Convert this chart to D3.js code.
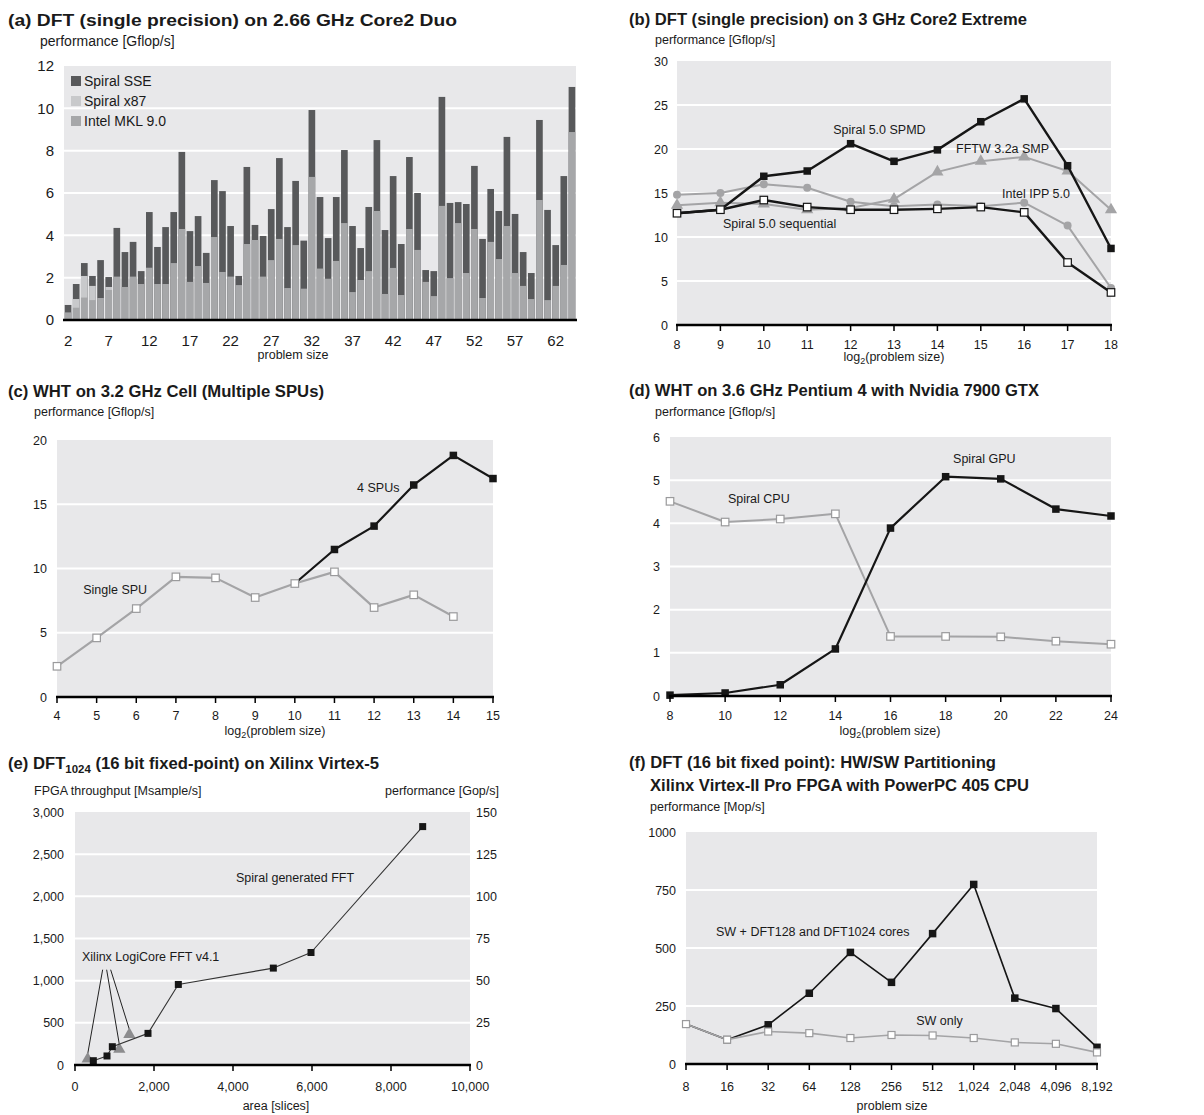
<!DOCTYPE html>
<html>
<head>
<meta charset="utf-8">
<script src="https://cdn.jsdelivr.net/npm/d3@7"></script>
<style>
body { margin: 0; background: #fff; }
svg text { font-family: "Liberation Sans", Arial, sans-serif; fill: #1a1a1a; }
</style>
</head>
<body>
<svg id="chart" width="1204" height="1115"></svg>
<script>
// ---- data (a): DFT on Core2 Duo, bars ----
const sizesA = [2,3,4,5,6,7,8,9,10,11,12,13,14,15,16,17,18,19,20,21,22,23,24,25,26,27,28,29,30,31,32,33,
  34,35,36,37,38,39,40,41,42,43,44,45,46,47,48,49,50,51,52,53,54,55,56,57,58,59,60,61,62,63,64];
const sseA = [0.71,1.70,2.69,2.08,2.83,2.03,4.35,3.21,3.69,2.31,5.10,3.45,4.39,5.10,7.94,4.20,4.91,3.17,6.61,6.09,
  4.44,2.08,7.23,4.49,3.97,5.24,7.65,4.39,6.57,3.75,9.92,5.81,3.87,5.81,8.03,4.44,3.40,5.34,8.50,4.25,6.80,3.59,
  7.70,6.00,2.36,2.31,10.54,5.53,5.57,5.48,7.28,3.83,6.19,5.15,8.65,5.01,3.21,2.22,9.45,5.20,3.54,6.80,11.01];
const mklA = [0.36,0.58,1.06,0.94,1.04,1.42,2.05,1.56,2.05,1.70,2.47,1.70,1.70,2.69,4.30,1.80,2.55,1.75,3.92,2.27,
  2.05,1.65,3.59,3.78,2.05,2.83,3.83,1.51,3.54,1.48,6.76,2.43,1.95,2.79,4.58,1.32,1.89,2.31,5.15,1.23,2.46,1.18,
  4.30,3.31,1.80,1.13,5.39,1.98,4.58,2.22,4.30,1.04,3.69,2.88,4.44,2.22,1.61,0.99,5.67,0.94,1.61,2.60,8.88];
// x87 is only visible where it rises above MKL
const x87Sizes = [3,4,5,7];
const x87A = [0.99,2.08,1.61,1.56];
const tickSizesA = [2,7,12,17,22,27,32,37,42,47,52,57,62];
const legendA = ["Spiral SSE", "Spiral x87", "Intel MKL 9.0"];

// ---- data (b): DFT on Core2 Extreme ----
const log2B = [8,9,10,11,12,13,14,15,16,17,18];
const spmdB = [12.7,13.1,16.9,17.5,20.6,18.6,19.9,23.1,25.7,18.1,8.7];
const seqB  = [12.7,13.1,14.2,13.4,13.1,13.1,13.2,13.4,12.8,7.1,3.7];
const fftwB = [13.6,13.9,13.75,13.1,13.3,14.3,17.4,18.6,19.1,17.5,13.1];
const ippB  = [14.8,15.0,16.0,15.6,14.0,13.5,13.7,13.5,13.9,11.3,4.2];

// ---- data (c): WHT on Cell ----
const log2C = [4,5,6,7,8,9,10,11,12,13,14,15];
const singleSizesC = [4,5,6,7,8,9,10,11,12,13,14];
const singleC = [2.39,4.6,6.88,9.35,9.27,7.74,8.83,9.74,6.96,7.95,6.26];
const fourSizesC = [10,11,12,13,14,15];
const fourC = [8.83,11.48,13.3,16.5,18.8,17.0];

// ---- data (d): WHT on Pentium 4 + GPU ----
const log2D = [8,10,12,14,16,18,20,22,24];
const gpuD = [0.02,0.07,0.26,1.09,3.89,5.08,5.03,4.33,4.17];
const cpuD = [4.51,4.03,4.10,4.22,1.38,1.38,1.37,1.27,1.20];

// ---- data (e): DFT1024 on Virtex-5 ----
const spiralArea = [464,810,945,1848,2616,5021,5975,8802];
const spiralThr  = [51,107,217,375,955,1149,1334,2827];
const xilinxArea = [321,1122,1376];
const xilinxThr  = [71,186,363];

// ---- data (f): HW/SW partitioning ----
const sizesF = ["8","16","32","64","128","256","512","1,024","2,048","4,096","8,192"];
const hwF = [172,105,169,305,481,352,562,774,284,239,72];
const swF = [172,105,140,133,112,125,123,112,93,87,50];

const BG = "#e8e8ea", BLACK = "#161616", GRAY = "#a4a4a6";
const svg = d3.select("#chart");

function addText(x, y, str, o = {}) {
  const t = svg.append("text").attr("x", x).attr("y", y)
    .attr("font-size", o.size || 12.5)
    .attr("text-anchor", o.anchor || "start")
    .text(str);
  if (o.bold) t.attr("font-weight", "bold");
  if (o.len) t.attr("textLength", o.len).attr("lengthAdjust", "spacingAndGlyphs");
  return t;
}

function frame(y, left, right, grid) {
  const top = y.range()[1], bottom = y.range()[0];
  svg.append("rect").attr("x", left).attr("y", top)
    .attr("width", right - left).attr("height", bottom - top).attr("fill", BG);
  svg.append("g").selectAll("line").data(grid).join("line")
    .attr("x1", left).attr("x2", right)
    .attr("y1", d => y(d)).attr("y2", d => y(d))
    .attr("stroke", "#fff").attr("stroke-width", 2);
}

function baseline(y0, left, right, tickXs) {
  svg.append("line").attr("x1", left - 1).attr("x2", right + 1)
    .attr("y1", y0).attr("y2", y0).attr("stroke", "#000").attr("stroke-width", 2.5);
  svg.append("g").selectAll("line").data(tickXs).join("line")
    .attr("x1", d => d).attr("x2", d => d)
    .attr("y1", y0).attr("y2", y0 + 6)
    .attr("stroke", "#000").attr("stroke-width", 1.5);
}

function yLabels(y, vals, xr, fmt, size, anchor) {
  svg.append("g").selectAll("text").data(vals).join("text")
    .attr("x", xr).attr("y", d => y(d)).attr("dy", "0.36em")
    .attr("text-anchor", anchor || "end")
    .attr("font-size", size || 12.5)
    .text(fmt || (d => d));
}

function xLabels(xs, labels, yb, size) {
  svg.append("g").selectAll("text").data(labels).join("text")
    .attr("x", (d, i) => xs[i]).attr("y", yb)
    .attr("text-anchor", "middle").attr("font-size", size || 12.5)
    .text(d => d);
}

function log2Title(cx, yb) {
  const t = svg.append("text").attr("x", cx).attr("y", yb)
    .attr("text-anchor", "middle").attr("font-size", 12.5);
  t.append("tspan").text("log");
  t.append("tspan").attr("font-size", 9).attr("dy", 3).text("2");
  t.append("tspan").attr("dy", -3).text("(problem size)");
}

function series(xf, yf, xs, ys, st) {
  const pts = xs.map((d, i) => [xf(d), yf(ys[i])]);
  svg.append("path").attr("d", d3.line()(pts)).attr("fill", "none")
    .attr("stroke", st.line).attr("stroke-width", st.width || 2)
    .attr("stroke-linejoin", "round");
  const g = svg.append("g");
  const s = st.size || 7;
  pts.forEach(([px, py], i) => {
    if (st.skipFirst && i === 0) return;
    if (st.marker === "square" || st.marker === "open") {
      g.append("rect").attr("x", px - s / 2).attr("y", py - s / 2)
        .attr("width", s).attr("height", s)
        .attr("fill", st.marker === "open" ? "#fff" : st.fill)
        .attr("stroke", st.marker === "open" ? st.stroke : "none")
        .attr("stroke-width", 1.2);
    } else if (st.marker === "circle") {
      g.append("circle").attr("cx", px).attr("cy", py).attr("r", s / 2).attr("fill", st.fill);
    } else if (st.marker === "tri") {
      g.append("path").attr("d", d3.symbol(d3.symbolTriangle, s * s * 0.8)())
        .attr("transform", `translate(${px},${py})`).attr("fill", st.fill);
    }
  });
}

// ================= (a) =================
{
  const x = d3.scaleBand().domain(sizesA).range([64, 576]).paddingInner(0.18).paddingOuter(0.09);
  const y = d3.scaleLinear().domain([0, 12]).range([320, 66]);
  addText(8, 26, "(a) DFT (single precision) on 2.66 GHz Core2 Duo", { size: 16, bold: true, len: 449 });
  addText(40, 46, "performance [Gflop/s]", { size: 14 });
  frame(y, 64, 576, [2, 4, 6, 8, 10]);
  const g = svg.append("g");
  g.selectAll(".sse").data(sizesA).join("rect")
    .attr("x", d => x(d)).attr("width", x.bandwidth())
    .attr("y", (d, i) => y(sseA[i])).attr("height", (d, i) => y(0) - y(sseA[i]))
    .attr("fill", "#58595b");
  g.selectAll(".x87").data(x87Sizes).join("rect")
    .attr("x", d => x(d)).attr("width", x.bandwidth())
    .attr("y", (d, i) => y(x87A[i])).attr("height", (d, i) => y(0) - y(x87A[i]))
    .attr("fill", "#c8c9cb");
  g.selectAll(".mkl").data(sizesA).join("rect")
    .attr("x", d => x(d)).attr("width", x.bandwidth())
    .attr("y", (d, i) => y(mklA[i])).attr("height", (d, i) => y(0) - y(mklA[i]))
    .attr("fill", "#a6a7a9");
  baseline(y(0), 64, 576, []);
  yLabels(y, [0, 2, 4, 6, 8, 10, 12], 54, null, 15);
  xLabels(tickSizesA.map(d => x(d) + x.bandwidth() / 2), tickSizesA, 346, 15);
  addText(293, 359, "problem size", { size: 12.5, anchor: "middle" });
  const legCol = ["#58595b", "#c8c9cb", "#a6a7a9"];
  legendA.forEach((name, i) => {
    svg.append("rect").attr("x", 71).attr("y", 76 + i * 20).attr("width", 10).attr("height", 10).attr("fill", legCol[i]);
    addText(84, 86 + i * 20, name, { size: 14 });
  });
}

// ================= (b) =================
{
  const x = d3.scaleLinear().domain([8, 18]).range([677, 1111]);
  const y = d3.scaleLinear().domain([0, 30]).range([325, 61]);
  addText(629, 25, "(b) DFT (single precision) on 3 GHz Core2 Extreme", { size: 16, bold: true, len: 398 });
  addText(655, 44, "performance [Gflop/s]");
  frame(y, 677, 1111, [5, 10, 15, 20, 25]);
  series(x, y, log2B, ippB, { line: GRAY, marker: "circle", fill: GRAY, size: 8 });
  series(x, y, log2B, fftwB, { line: GRAY, marker: "tri", fill: GRAY, size: 9 });
  series(x, y, log2B, spmdB, { line: BLACK, width: 2.4, marker: "square", fill: BLACK, size: 7.5 });
  series(x, y, log2B, seqB, { line: BLACK, width: 2.4, marker: "open", stroke: BLACK, size: 7.5 });
  baseline(y(0), 677, 1111, log2B.map(x));
  yLabels(y, [0, 5, 10, 15, 20, 25, 30], 668);
  xLabels(log2B.map(x), log2B, 349);
  log2Title(894, 361);
  addText(x(11.6), y(21.7), "Spiral 5.0 SPMD");
  addText(x(14.43), y(19.5), "FFTW 3.2a SMP");
  addText(x(15.49), y(14.4), "Intel IPP 5.0");
  addText(x(9.06), y(11.0), "Spiral 5.0 sequential");
}

// ================= (c) =================
{
  const x = d3.scaleLinear().domain([4, 15]).range([57, 493]);
  const y = d3.scaleLinear().domain([0, 20]).range([697, 440]);
  addText(8, 397, "(c) WHT on 3.2 GHz Cell (Multiple SPUs)", { size: 16, bold: true, len: 316 });
  addText(34, 416, "performance [Gflop/s]");
  frame(y, 57, 493, [5, 10, 15]);
  series(x, y, fourSizesC, fourC, { line: BLACK, width: 2.2, marker: "square", fill: BLACK, size: 7.5, skipFirst: true });
  series(x, y, singleSizesC, singleC, { line: GRAY, width: 2.2, marker: "open", stroke: "#9a9a9c", size: 7.5 });
  baseline(y(0), 57, 493, log2C.map(x));
  yLabels(y, [0, 5, 10, 15, 20], 47);
  xLabels(log2C.map(x), log2C, 720);
  log2Title(275, 735);
  addText(x(11.57), y(15.95), "4 SPUs");
  addText(x(4.66), y(8.0), "Single SPU");
}

// ================= (d) =================
{
  const x = d3.scaleLinear().domain([8, 24]).range([670, 1111]);
  const y = d3.scaleLinear().domain([0, 6]).range([696, 437]);
  addText(629, 396, "(d) WHT on 3.6 GHz Pentium 4 with Nvidia 7900 GTX", { size: 16, bold: true, len: 410 });
  addText(655, 416, "performance [Gflop/s]");
  frame(y, 670, 1111, [1, 2, 3, 4, 5]);
  series(x, y, log2D, cpuD, { line: GRAY, width: 2, marker: "open", stroke: "#9a9a9c", size: 7.5 });
  series(x, y, log2D, gpuD, { line: BLACK, width: 2.2, marker: "square", fill: BLACK, size: 7.5 });
  baseline(y(0), 670, 1111, log2D.map(x));
  yLabels(y, [0, 1, 2, 3, 4, 5, 6], 660);
  xLabels(log2D.map(x), log2D, 720);
  log2Title(890, 735);
  addText(x(18.27), y(5.40), "Spiral GPU");
  addText(x(10.1), y(4.47), "Spiral CPU");
}

// ================= (e) =================
{
  const x = d3.scaleLinear().domain([0, 10000]).range([75, 470]);
  const y = d3.scaleLinear().domain([0, 3000]).range([1065, 812]);
  const y2 = d3.scaleLinear().domain([0, 150]).range([1065, 812]);
  const t = svg.append("text").attr("x", 8).attr("y", 769).attr("font-size", 16).attr("font-weight", "bold")
    .attr("textLength", 371).attr("lengthAdjust", "spacingAndGlyphs");
  t.append("tspan").text("(e) DFT");
  t.append("tspan").attr("font-size", 11).attr("dy", 4).text("1024");
  t.append("tspan").attr("dy", -4).text(" (16 bit fixed-point) on Xilinx Virtex-5");
  addText(34, 795, "FPGA throughput [Msample/s]");
  addText(499, 795, "performance [Gop/s]", { anchor: "end" });
  frame(y, 75, 470, [500, 1000, 1500, 2000, 2500]);
  const xt = [0, 2000, 4000, 6000, 8000, 10000];
  // leader lines from the Xilinx label to its points
  svg.append("g").selectAll("line").data(xilinxArea).join("line")
    .attr("x1", (d, i) => x(700) + i * 4).attr("y1", y(1130))
    .attr("x2", d => x(d)).attr("y2", (d, i) => y(xilinxThr[i]) - 5)
    .attr("stroke", "#222").attr("stroke-width", 1);
  series(x, y, xilinxArea, xilinxThr, { line: "none", marker: "tri", fill: "#8c8c8e", size: 9 });
  series(x, y, spiralArea, spiralThr, { line: "#333", width: 1.1, marker: "square", fill: BLACK, size: 7 });
  baseline(y(0), 75, 470, xt.map(x));
  yLabels(y, [0, 500, 1000, 1500, 2000, 2500, 3000], 64, d3.format(","));
  yLabels(y2, [0, 25, 50, 75, 100, 125, 150], 476, null, 12.5, "start");
  xLabels(xt.map(x), xt.map(d3.format(",")), 1091);
  addText(276, 1110, "area [slices]", { anchor: "middle" });
  addText(x(4076), y(2170), "Spiral generated FFT");
  addText(x(177), y(1233), "Xilinx LogiCore FFT v4.1");
}

// ================= (f) =================
{
  const x = d3.scalePoint().domain(sizesF).range([686, 1097]);
  const y = d3.scaleLinear().domain([0, 1000]).range([1064, 832]);
  addText(629, 768, "(f) DFT (16 bit fixed point): HW/SW Partitioning", { size: 16, bold: true, len: 367 });
  addText(650, 791, "Xilinx Virtex-II Pro FPGA with PowerPC 405 CPU", { size: 16, bold: true, len: 379 });
  addText(650, 811, "performance [Mop/s]");
  frame(y, 686, 1097, [250, 500, 750]);
  series(x, y, sizesF, hwF, { line: BLACK, width: 1.6, marker: "square", fill: BLACK, size: 7.5 });
  series(x, y, sizesF, swF, { line: GRAY, width: 1.6, marker: "open", stroke: "#9a9a9c", size: 7 });
  baseline(y(0), 686, 1097, sizesF.map(x));
  yLabels(y, [0, 250, 500, 750, 1000], 676);
  xLabels(sizesF.map(x), sizesF, 1091);
  addText(892, 1110, "problem size", { anchor: "middle" });
  addText(x(sizesF[0]) + x.step() * 0.73, y(552), "SW + DFT128 and DFT1024 cores");
  addText(x(sizesF[0]) + x.step() * 5.6, y(168), "SW only");
}
</script>
</body>
</html>
